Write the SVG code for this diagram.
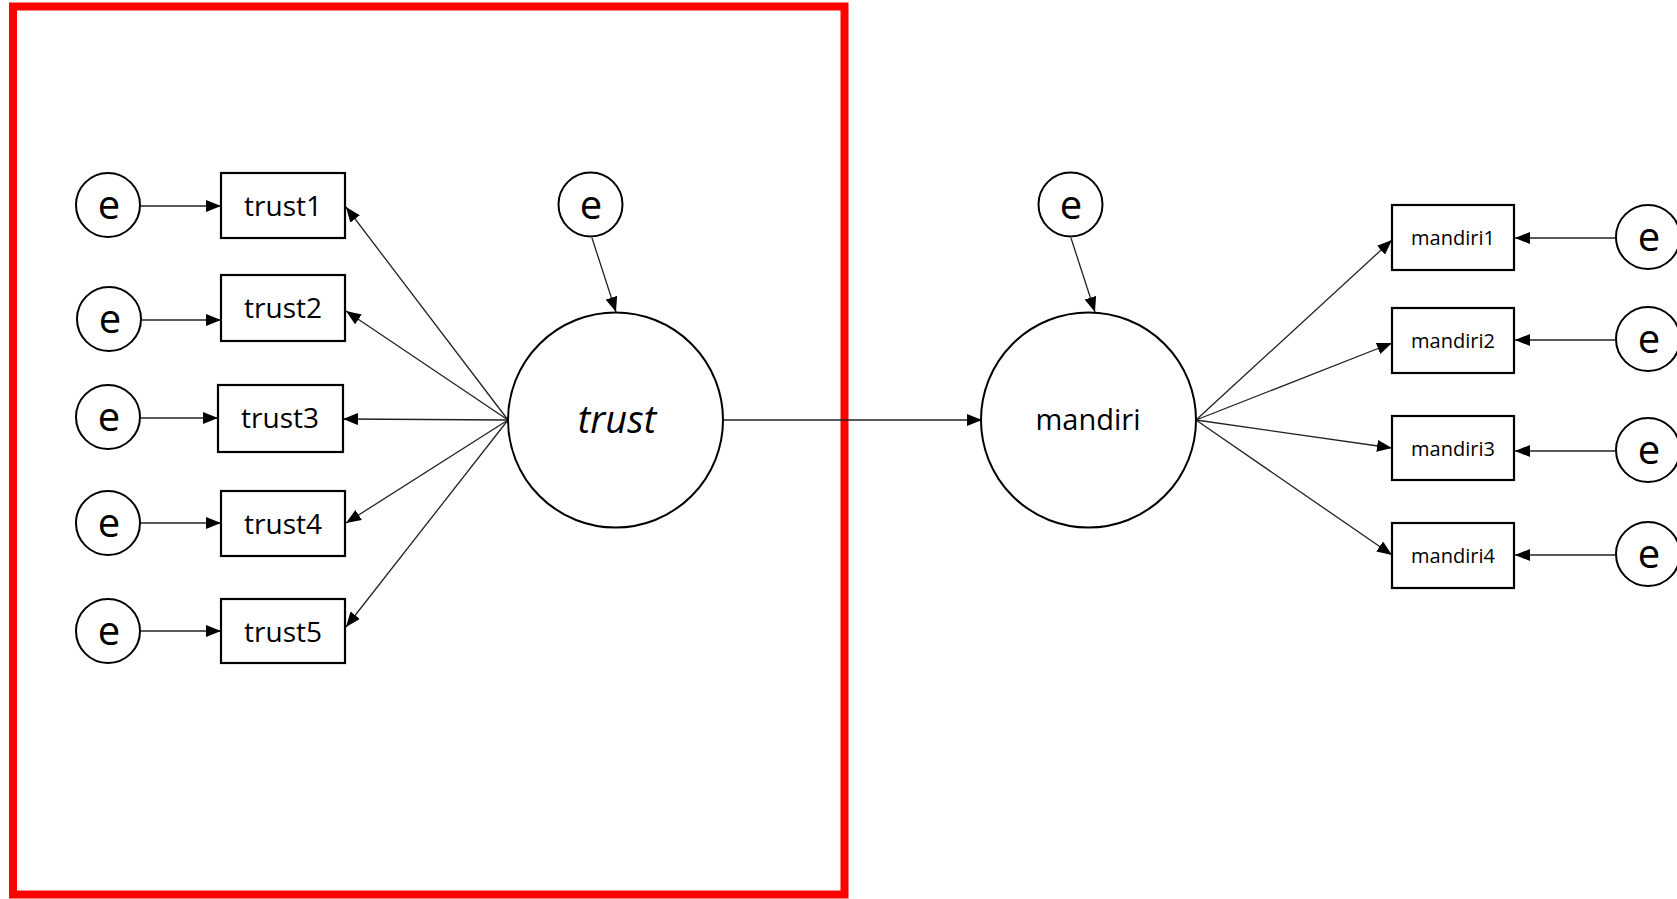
<svg xmlns="http://www.w3.org/2000/svg" width="1677" height="899" viewBox="0 0 1677 899">
<style>
.frame{fill:none;stroke:#ff0000;stroke-width:8}
.c{fill:#fff;stroke:#000;stroke-width:2}
.b{fill:#fff;stroke:#000;stroke-width:2.2}
.e{font-family:"Open Sans","Liberation Sans",sans-serif;font-size:40px;fill:#000;text-anchor:middle}
.t{font-family:"Open Sans","Liberation Sans",sans-serif;font-size:28px;fill:#000;text-anchor:middle}
.m{font-family:"Open Sans","Liberation Sans",sans-serif;font-size:20px;fill:#000;text-anchor:middle}
.big{font-family:"Open Sans","Liberation Sans",sans-serif;font-size:38px;font-style:italic;fill:#000;text-anchor:middle}
.big2{font-family:"Open Sans","Liberation Sans",sans-serif;font-size:29px;fill:#000;text-anchor:middle}
.conn line{stroke:#222;stroke-width:1.3;marker-end:url(#ah)}
</style>
<defs>
<marker id="ah" markerUnits="userSpaceOnUse" markerWidth="15" markerHeight="12" refX="15" refY="6" orient="auto">
<path d="M0,0 L15,6 L0,12 z" fill="#000"/>
</marker>
</defs>
<rect width="1677" height="899" fill="#fff"/>
<rect class="frame" x="13" y="6.5" width="831.5" height="888"/>

<g id="connectors" class="conn">
<line x1="141" y1="206" x2="221" y2="206"/>
<line x1="142" y1="320" x2="221" y2="320"/>
<line x1="141" y1="418" x2="218" y2="418"/>
<line x1="141" y1="523" x2="221" y2="523"/>
<line x1="141" y1="631" x2="221" y2="631"/>
<line x1="508" y1="420" x2="346" y2="207"/>
<line x1="508" y1="420" x2="346" y2="311"/>
<line x1="508" y1="420" x2="343" y2="419"/>
<line x1="508" y1="420" x2="346" y2="523"/>
<line x1="508" y1="420" x2="346" y2="627"/>
<line x1="592" y1="238" x2="616" y2="312"/>
<line x1="723" y1="420" x2="982" y2="420"/>
<line x1="1071" y1="238" x2="1095" y2="312"/>
<line x1="1196" y1="420" x2="1392" y2="240"/>
<line x1="1196" y1="420" x2="1392" y2="343"/>
<line x1="1196" y1="420" x2="1392" y2="448"/>
<line x1="1196" y1="420" x2="1392" y2="555"/>
<line x1="1615" y1="238" x2="1515" y2="238"/>
<line x1="1615" y1="340" x2="1515" y2="340"/>
<line x1="1615" y1="451" x2="1515" y2="451"/>
<line x1="1615" y1="555" x2="1515" y2="555"/>
</g>

<g id="e1"><circle class="c" cx="108" cy="205" r="32"/><text class="e" x="109" y="219">e</text></g>
<g id="e2"><circle class="c" cx="109" cy="319" r="32"/><text class="e" x="110" y="333">e</text></g>
<g id="e3"><circle class="c" cx="108" cy="417" r="32"/><text class="e" x="109" y="431">e</text></g>
<g id="e4"><circle class="c" cx="108" cy="523" r="32"/><text class="e" x="109" y="537">e</text></g>
<g id="e5"><circle class="c" cx="108" cy="631" r="32"/><text class="e" x="109" y="645">e</text></g>

<g id="trust1"><rect class="b" x="221" y="173" width="124" height="65"/><text class="t" x="283" y="216">trust1</text></g>
<g id="trust2"><rect class="b" x="221" y="275" width="124" height="66"/><text class="t" x="283" y="318">trust2</text></g>
<g id="trust3"><rect class="b" x="218" y="385" width="125" height="67"/><text class="t" x="280" y="428">trust3</text></g>
<g id="trust4"><rect class="b" x="221" y="491" width="124" height="65"/><text class="t" x="283" y="534">trust4</text></g>
<g id="trust5"><rect class="b" x="221" y="599" width="124" height="64"/><text class="t" x="283" y="642">trust5</text></g>

<g id="e_trust"><circle class="c" cx="590.5" cy="204.5" r="32"/><text class="e" x="591" y="218.5">e</text></g>
<g id="trust"><circle class="c" cx="615.5" cy="420" r="107.5"/><text class="big" x="617" y="433">trust</text></g>

<g id="e_mandiri"><circle class="c" cx="1070.5" cy="204.5" r="32"/><text class="e" x="1071" y="218.5">e</text></g>
<g id="mandiri"><circle class="c" cx="1088.5" cy="420" r="107.5"/><text class="big2" x="1088" y="430">mandiri</text></g>

<g id="mandiri1"><rect class="b" x="1392" y="205" width="122" height="65"/><text class="m" x="1453" y="245">mandiri1</text></g>
<g id="mandiri2"><rect class="b" x="1392" y="308" width="122" height="65"/><text class="m" x="1453" y="348">mandiri2</text></g>
<g id="mandiri3"><rect class="b" x="1392" y="416" width="122" height="64"/><text class="m" x="1453" y="456">mandiri3</text></g>
<g id="mandiri4"><rect class="b" x="1392" y="523" width="122" height="65"/><text class="m" x="1453" y="563">mandiri4</text></g>

<g id="e_m1"><circle class="c" cx="1648" cy="237" r="32"/><text class="e" x="1649" y="251">e</text></g>
<g id="e_m2"><circle class="c" cx="1648" cy="339" r="32"/><text class="e" x="1649" y="353">e</text></g>
<g id="e_m3"><circle class="c" cx="1648" cy="450" r="32"/><text class="e" x="1649" y="464">e</text></g>
<g id="e_m4"><circle class="c" cx="1648" cy="554" r="32"/><text class="e" x="1649" y="568">e</text></g>
</svg>
